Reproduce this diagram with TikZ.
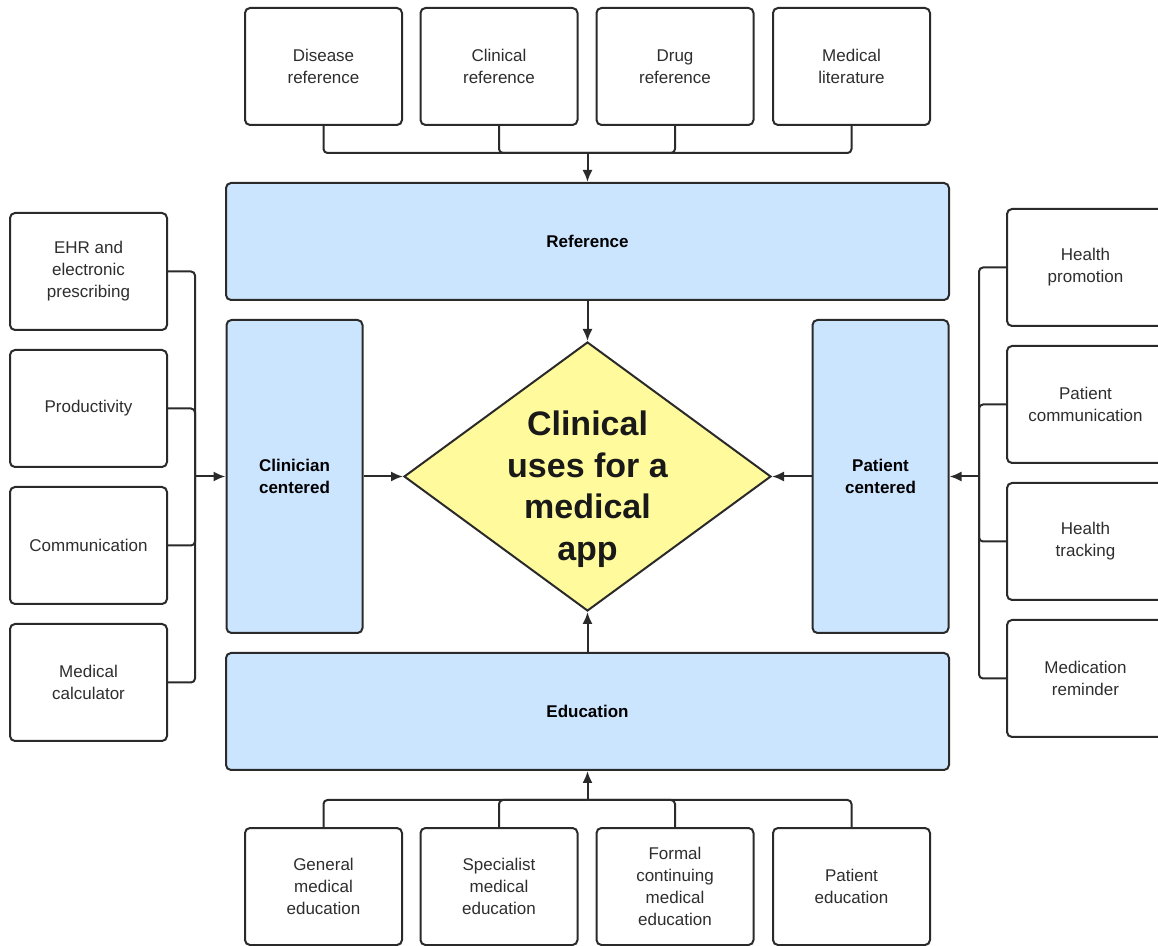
\documentclass[tikz,border=0pt]{standalone}
\usepackage{fontspec}
\setmainfont{Liberation Sans}
\usetikzlibrary{shapes.geometric,arrows.meta}
\definecolor{edgegray}{HTML}{2A2A2A}
\definecolor{textgray}{HTML}{2E2E2E}
\definecolor{hubblue}{HTML}{CCE5FF}
\definecolor{coreyellow}{HTML}{FFFA9C}
\begin{document}
\begin{tikzpicture}[x=0.5pt,y=-0.5pt,
  leaf/.style={draw=edgegray, line width=1pt, rounded corners=2.5pt, fill=white,
    minimum width=78.5pt, minimum height=58.5pt, inner sep=1pt, align=center,
    text=textgray, font=\fontsize{8.5}{11}\selectfont},
  hub/.style={draw=edgegray, line width=1pt, rounded corners=2.5pt, fill=hubblue,
    inner sep=0pt, align=center, text=black, font=\bfseries\fontsize{8.5}{11}\selectfont},
  wide/.style={hub, minimum width=361.5pt, minimum height=58.5pt},
  tall/.style={hub, minimum width=68pt, minimum height=156.5pt},
  link/.style={draw=edgegray, line width=1pt, rounded corners=2pt},
  feed/.style={draw=edgegray, line width=1pt, -{Latex[length=6pt,width=5pt]}}
]
\useasboundingbox (0,0) rectangle (1158,946);

% central hubs
\node[wide] (ref) at (587.5,241.5) {Reference};
\node[wide] (edu) at (587.5,711.5) {Education};
\node[tall] (clin) at (294.5,476.5) {Clinician\\centered};
\node[tall] (pat) at (880.5,476.5) {Patient\\centered};

% core diamond
\node[diamond, draw=edgegray, line width=1pt, fill=coreyellow, inner sep=0pt,
  minimum width=183.5pt, minimum height=134.5pt] (core) at (587.5,476.5) {};
\node[align=center, text=black!90, font=\bfseries\fontsize{17}{20.75}\selectfont]
  (coretext) at (587.5,489) {Clinical\\uses for a\\medical\\app};

% reference sources
\node[leaf] (t1) at (323.5,66.5) {Disease\\reference};
\node[leaf] (t2) at (499,66.5) {Clinical\\reference};
\node[leaf] (t3) at (675,66.5) {Drug\\reference};
\node[leaf] (t4) at (851.5,66.5) {Medical\\literature};

% education sources
\node[leaf] (b1) at (323.5,886.5) {General\\medical\\education};
\node[leaf] (b2) at (499,886.5) {Specialist\\medical\\education};
\node[leaf] (b3) at (675,886.5) {Formal\\continuing\\medical\\education};
\node[leaf] (b4) at (851.5,886.5) {Patient\\education};

% clinician tools
\node[leaf] (l1) at (88.5,271.5) {EHR and\\electronic\\prescribing};
\node[leaf] (l2) at (88.5,408.5) {Productivity};
\node[leaf] (l3) at (88.5,545.5) {Communication};
\node[leaf] (l4) at (88.5,682.5) {Medical\\calculator};

% patient tools
\node[leaf] (r1) at (1085.5,267.5) {Health\\promotion};
\node[leaf] (r2) at (1085.5,404.5) {Patient\\communication};
\node[leaf] (r3) at (1085.5,541.5) {Health\\tracking};
\node[leaf] (r4) at (1085.5,678.5) {Medication\\reminder};

% bus junctions
\coordinate (topbus) at (587.5,153);
\coordinate (botbus) at (587.5,800);
\coordinate (lbus) at (195,476.5);
\coordinate (rbus) at (979,476.5);

\foreach \n in {t1,t2,t3,t4} \draw[link] (\n.south) |- (topbus);
\foreach \n in {b1,b2,b3,b4} \draw[link] (\n.north) |- (botbus);
\foreach \n in {l1,l2,l3,l4} \draw[link] (\n.east) -| (lbus);
\foreach \n in {r1,r2,r3,r4} \draw[link] (\n.west) -| (rbus);

\draw[feed] (topbus) -- (ref.north);
\draw[feed] (botbus) -- (edu.south);
\draw[feed] (lbus) -- (clin.west);
\draw[feed] (rbus) -- (pat.east);

\draw[feed] (ref.south) -- (core.north);
\draw[feed] (edu.north) -- (core.south);
\draw[feed] (clin.east) -- (core.west);
\draw[feed] (pat.west) -- (core.east);
\end{tikzpicture}
\end{document}
